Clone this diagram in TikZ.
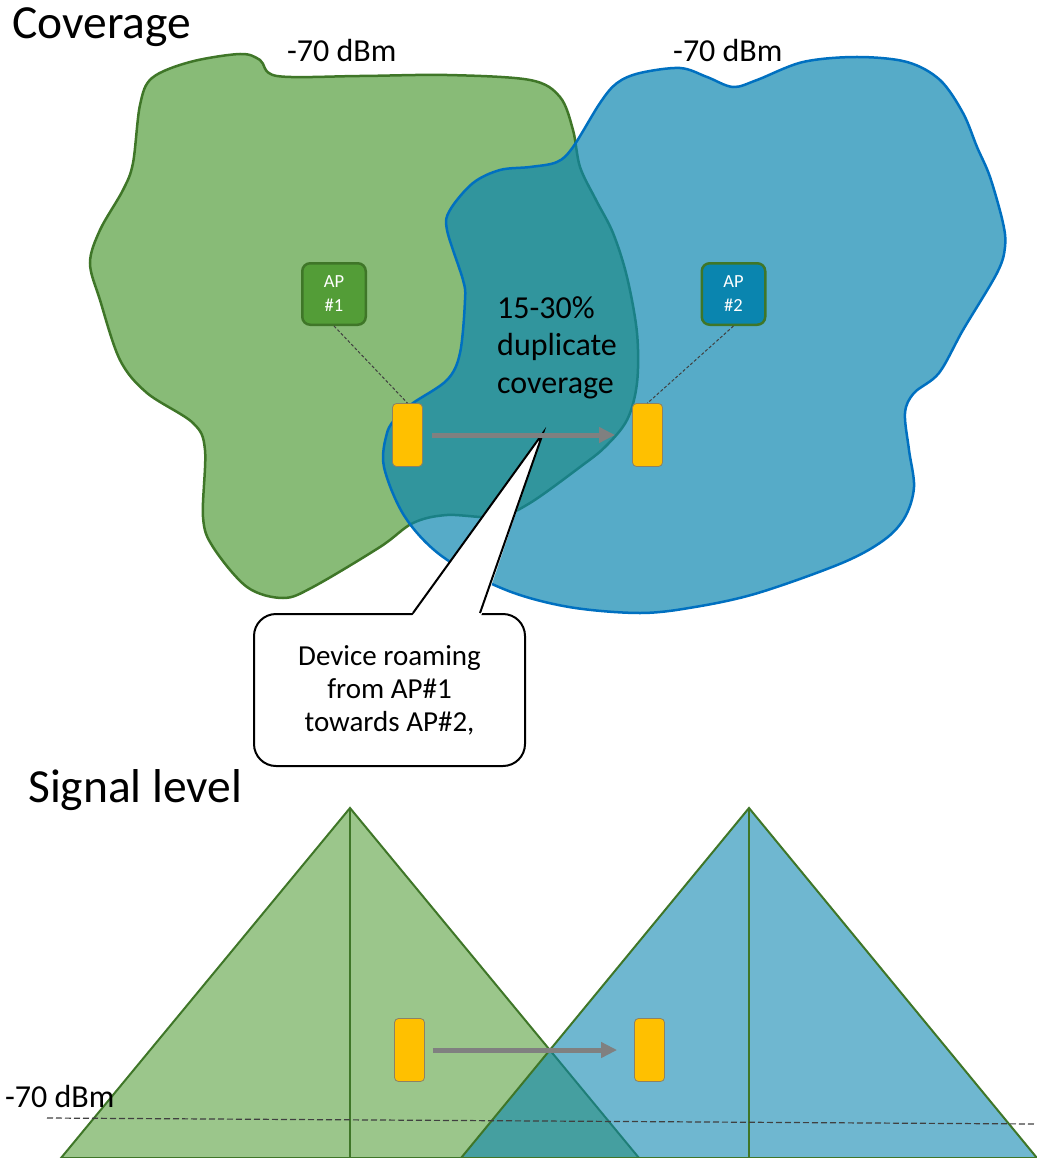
\documentclass[tikz,border=0pt]{standalone}
\usepackage{fontspec}
\setmainfont{Carlito}
\usetikzlibrary{arrows.meta}
\definecolor{gfill}{RGB}{136,187,119}
\definecolor{gline}{RGB}{63,118,40}
\definecolor{bbase}{RGB}{10,133,175}
\definecolor{bline}{RGB}{0,112,192}
\definecolor{apg}{RGB}{83,157,55}
\definecolor{devy}{RGB}{255,192,0}
\definecolor{devb}{RGB}{140,130,100}
\definecolor{gfilltwo}{RGB}{155,198,139}
\definecolor{arrg}{RGB}{128,128,128}
\begin{document}
\begin{tikzpicture}[x=1pt,y=-1pt,
  apbox/.style={draw=gline, line width=2.5pt, rounded corners=8pt, minimum width=63.5pt, minimum height=61.5pt, text=white, align=center, font=\fontsize{18.5}{24}\selectfont, inner sep=0pt},
  device/.style={draw=devb, line width=0.8pt, fill=devy, rounded corners=4pt, minimum width=30pt, minimum height=63pt, inner sep=0pt},
  conn/.style={densely dashed, line width=1pt, draw=black!75},
  roam/.style={draw=arrg, line width=5pt, -{Triangle[length=16pt,width=15pt]}},
  lbl/.style={anchor=base west, inner sep=0pt, font=\fontsize{32}{38}\selectfont},
  heading/.style={anchor=base west, inner sep=0pt, font=\fontsize{47.5}{56}\selectfont},
  callout/.style={draw, line width=2pt, fill=white, rounded corners=22pt, minimum width=271pt, minimum height=152pt, align=center, font=\fontsize{29}{33}\selectfont, inner sep=0pt},
  tri/.style={draw=gline, line width=2pt, line join=miter},
  blobg/.style={fill=gfill, draw=gline, line width=2.5pt},
  blobb/.style={fill=bbase, fill opacity=0.69, draw=bline, draw opacity=1, line width=2.5pt}
]
\useasboundingbox (0,0) rectangle (1036,1158);

% coverage areas
\draw[blobg] plot[smooth cycle, tension=0.55] coordinates {
 (152,78) (190,62) (240,54) (260,60) (277,76) (360,76) (447,75) (530,80) (560,97) (573,130)
 (580,167) (596,200) (613,233) (627,277) (637,333) (637,383) (627,420) (605,447) (580,467)
 (530,503) (497,517) (447,515) (413,523) (380,547) (313,587) (283,598) (247,587) (213,547)
 (203,517) (205,450) (193,423) (147,393) (120,360) (100,300) (90,263) (100,230) (123,190)
 (133,163) (140,105)};
\draw[blobb] plot[smooth cycle, tension=0.55] coordinates {
 (573,147) (600,103) (617,83) (640,73) (680,68) (707,77) (733,87) (757,80) (803,62) (857,57)
 (907,62) (940,80) (963,113) (977,147) (990,177) (1003,223) (1005,247) (997,273) (963,330)
 (939,373) (914,393) (905,413) (909,450) (914,487) (905,517) (884,540) (842,563) (758,593)
 (695,607) (640,613) (569,607) (506,590) (443,557) (405,517) (384,467) (387,433) (397,417)
 (413,403) (447,380) (460,353) (465,300) (463,280) (447,230) (450,210) (473,183) (500,170)
 (530,167) (557,162)};

% headings and labels
\node[heading] (tcov) at (12,39) {Coverage};
\node[heading] (tsig) at (28,802) {Signal level};
\node[lbl] (l1) at (287,62) {-70 dBm};
\node[lbl] (l2) at (673,62) {-70 dBm};
\node[lbl] (d1) at (497,318) {15-30\%};
\node[lbl] (d2) at (497,355) {duplicate};
\node[lbl] (d3) at (497,393) {coverage};

% callout
\node[callout] (call) at (389.5,690) {Device roaming\\from AP\#1\\towards AP\#2,};
\coordinate (tip) at (543,433);
\fill[white] (412,616) -- (tip) -- (481,616) -- cycle;
\draw[line width=2pt, line join=miter] (413,613) -- (tip) -- (480,613);

% access points and devices
\node[apbox, fill=apg] (ap1) at (334,294) {AP\\\#1};
\node[apbox, fill=bbase] (ap2) at (733.5,294) {AP\\\#2};
\node[device] (dev1) at (407.5,435) {};
\node[device] (dev2) at (647.5,435) {};
\draw[conn] (ap1.south) -- (dev1.north);
\draw[conn] (ap2.south) -- (dev2.north);
\draw[roam] ([xshift=9pt]dev1.east) -- ([xshift=-17pt]dev2.west);

% signal level
\fill[gfilltwo] (350,808) -- (639,1158) -- (61,1158) -- cycle;
\draw[tri] (350,808) -- (639,1158) -- (61,1158) -- cycle;
\draw[tri] (350,808) -- (350,1158);
\fill[bbase, fill opacity=0.59] (749,808) -- (1037,1158) -- (461,1158) -- cycle;
\draw[tri] (749,808) -- (1037,1158) -- (461,1158) -- cycle;
\draw[tri] (749,808) -- (749,1158);
\node[device] (b1) at (409.5,1050) {};
\node[device] (b2) at (649.5,1050) {};
\draw[roam] ([xshift=8pt]b1.east) -- ([xshift=-17pt]b2.west);
\node[lbl] (l3) at (5,1107) {-70 dBm};
\coordinate (th1) at (47,1118);
\coordinate (th2) at (1036,1124);
\draw[line width=1.2pt, draw=black!75, dash pattern=on 6pt off 3pt] (th1) -- (th2);
\end{tikzpicture}
\end{document}
